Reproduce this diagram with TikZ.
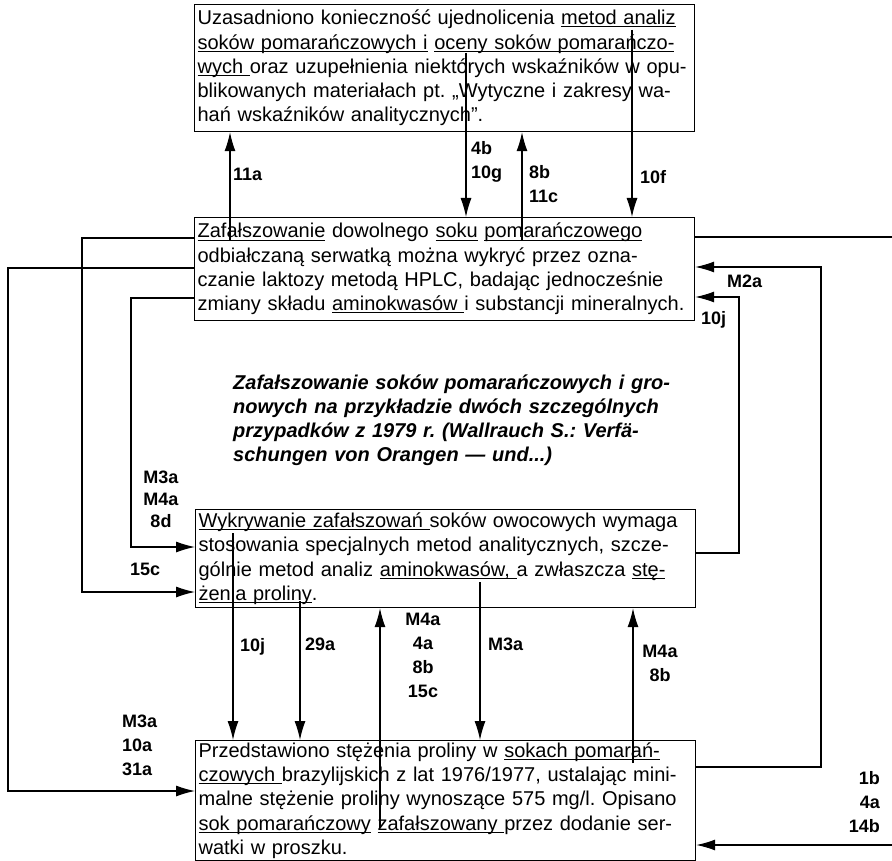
\documentclass[tikz,border=0pt]{standalone}
\usepackage{fontspec}
\setmainfont{Liberation Sans}
\usetikzlibrary{arrows.meta,positioning,calc}
\frenchspacing
\newcommand{\boxfont}{\fontsize{20}{24.3}\selectfont}
\newcommand{\lblfont}{\fontsize{18}{24}\selectfont\bfseries}
\newcommand{\titlefont}{\fontsize{20}{24}\selectfont\bfseries\itshape}
\newsavebox\ulbox
\newcommand{\ul}[1]{\sbox\ulbox{#1}\rlap{\rule[-2.6pt]{\wd\ulbox}{1pt}}\usebox\ulbox}
\newcommand{\jl}[1]{\makebox[494pt][s]{#1}}
\newcommand{\el}[1]{\makebox[494pt][l]{#1}}
\newcommand{\tl}[1]{\makebox[434pt][s]{#1}}

\begin{document}
\begin{tikzpicture}[x=1pt,y=-1pt,
      box/.style={draw,line width=1.2pt,anchor=north west,text width=494pt,
                  inner xsep=3pt,inner ysep=0pt,align=left,font=\boxfont},
      lbl/.style={inner sep=0pt,font=\lblfont},
      pfeil/.style={line width=1.2pt,-{Latex[length=19pt,width=11pt]}},
      linia/.style={line width=1.2pt}]
    \fill[white] (0,0) rectangle (892,861);
    \useasboundingbox (0,0) rectangle (892,861);
    \node[box,minimum height=127pt] (uzas) at (194,4) {%
      \jl{Uzasadniono konieczność ujednolicenia \ul{metod analiz}}\\
      \jl{\ul{soków pomarańczowych i} \ul{oceny soków pomarańczo-}}\\
      \jl{\ul{wych }oraz uzupełnienia niektórych wskaźników w opu-}\\
      \jl{blikowanych materiałach pt. „Wytyczne i zakresy wa-}\\
      \el{hań wskaźników analitycznych”.}};
    \node[box,minimum height=103pt] (zafal) at (194,217) {%
      \jl{\ul{Zafałszowanie} dowolnego \ul{soku} \ul{pomarańczowego}}\\
      \jl{odbiałczaną serwatką można wykryć przez ozna-}\\
      \jl{czanie laktozy metodą HPLC, badając jednocześnie}\\
      \jl{zmiany składu \ul{aminokwasów }i substancji mineralnych.}};
    \node[inner sep=0pt,anchor=north west,text width=434pt,align=left,font=\titlefont]
      (tytul) at (233,375) {%
      \tl{Zafałszowanie soków pomarańczowych i gro-}\\
      \tl{nowych na przykładzie dwóch szczególnych}\\
      \tl{przypadków z 1979 r. (Wallrauch S.: Verfä-}\\
      \makebox[434pt][l]{schungen von Orangen — und...)}};
    \node[box,minimum height=98pt] (wykr) at (195,509) {%
      \jl{\ul{Wykrywanie zafałszowań }soków owocowych wymaga}\\
      \jl{stosowania specjalnych metod analitycznych, szcze-}\\
      \jl{gólnie metod analiz \ul{aminokwasów, }a zwłaszcza \ul{stę-}}\\
      \el{\ul{żenia proliny}.}};
    \node[box,minimum height=120pt] (przed) at (195,740) {%
      \jl{Przedstawiono stężenia proliny w \ul{sokach pomarań-}}\\
      \jl{\ul{czowych }brazylijskich z lat 1976/1977, ustalając mini-}\\
      \jl{malne stężenie proliny wynoszące 575 mg/l. Opisano}\\
      \jl{\ul{sok pomarańczowy} \ul{zafałszowany }przez dodanie ser-}\\
      \el{watki w proszku.}};

    \coordinate (a11) at (230,241);
    \coordinate (b4)  at (466,53);
    \coordinate (b8)  at (522,241);
    \coordinate (f10) at (632,30);
    \draw[pfeil] (a11) -- (a11 |- uzas.south);
    \draw[pfeil] (b4) -- (b4 |- zafal.north);
    \draw[pfeil] (b8) -- (b8 |- uzas.south);
    \draw[pfeil] (f10) -- (f10 |- zafal.north);

    \coordinate (wyj) at (892,237);
    \draw[linia] (wyj -| zafal.east) -- (wyj);
    \coordinate (m2d) at (821,767);
    \coordinate (m2g) at (821,267);
    \draw[pfeil] (m2d -| przed.east) -- (m2d) -- (m2g) -- (m2g -| zafal.east);
    \coordinate (j10d) at (739,553);
    \coordinate (j10g) at (739,297);
    \draw[pfeil] (j10d -| wykr.east) -- (j10d) -- (j10g) -- (j10g -| zafal.east);

    \coordinate (c15g) at (82,238);
    \coordinate (c15d) at (82,592);
    \draw[pfeil] (c15g -| zafal.west) -- (c15g) -- (c15d) -- (c15d -| wykr.west);
    \coordinate (m3g) at (8,268);
    \coordinate (m3d) at (8,791);
    \draw[pfeil] (m3g -| zafal.west) -- (m3g) -- (m3d) -- (m3d -| przed.west);
    \coordinate (d8g) at (131,298);
    \coordinate (d8d) at (131,547);
    \draw[pfeil] (d8g -| zafal.west) -- (d8g) -- (d8d) -- (d8d -| wykr.west);

    \coordinate (j10s) at (233,533);
    \coordinate (a29)  at (300,601);
    \coordinate (c15s) at (380,828);
    \coordinate (m3s)  at (480,582);
    \coordinate (b8s)  at (633,763);
    \draw[pfeil] (j10s) -- (j10s |- przed.north);
    \draw[pfeil] (a29) -- (a29 |- przed.north);
    \draw[pfeil] (c15s) -- (c15s |- wykr.south);
    \draw[pfeil] (m3s) -- (m3s |- przed.north);
    \draw[pfeil] (b8s) -- (b8s |- wykr.south);
    \coordinate (wej) at (892,845);
    \draw[pfeil] (wej) -- (wej -| przed.east);

    \node[lbl,anchor=north west] (l11a) at (233,168) {11a};
    \node[lbl,anchor=north west,align=left] (l4b) at (471,141) {4b\\10g};
    \node[lbl,anchor=north west,align=left] (l8b) at (529,165) {8b\\11c};
    \node[lbl,anchor=north west] (l10f) at (640,170) {10f};
    \node[lbl,anchor=north west] (lm2a) at (727,275) {M2a};
    \node[lbl,anchor=north west] (l10j) at (701,311) {10j};
    \node[lbl,anchor=north,align=center,font=\fontsize{18}{22}\selectfont\bfseries]
      (lm3a) at (161,471) {M3a\\M4a\\8d};
    \node[lbl,anchor=north west] (l15c) at (130,563) {15c};
    \node[lbl,anchor=north west,align=left] (l10a) at (122,715) {M3a\\10a\\31a};
    \node[lbl,anchor=north west] (l10jd) at (240,638) {10j};
    \node[lbl,anchor=north west] (l29a) at (305,638) {29a};
    \node[lbl,anchor=north,align=center] (lm4a) at (423,613) {M4a\\4a\\8b\\15c};
    \node[lbl,anchor=north west] (lm3b) at (488,638) {M3a};
    \node[lbl,anchor=north,align=center] (lm4b) at (660,645) {M4a\\8b};
    \node[lbl,anchor=north east,align=right] (l1b) at (880,771) {1b\\4a\\14b};
\end{tikzpicture}
\end{document}
